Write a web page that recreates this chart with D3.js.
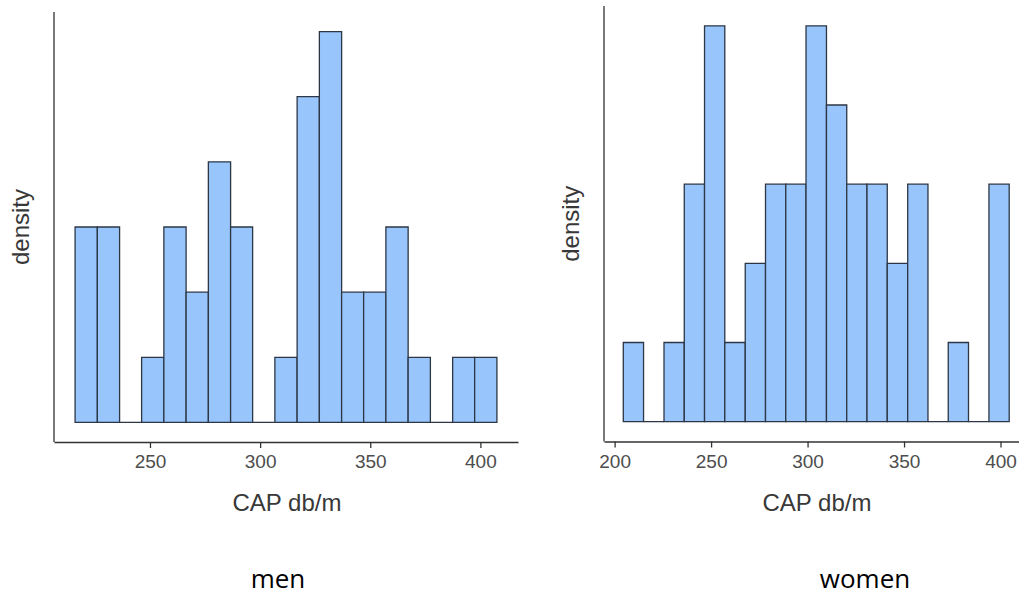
<!DOCTYPE html>
<html>
<head>
<meta charset="utf-8">
<script src="https://cdn.jsdelivr.net/npm/d3@7"></script>
<style>
  html, body { margin: 0; padding: 0; background: #fff; }
  svg { display: block; }
  .axis-title { font-family: "Liberation Sans", Arial, sans-serif; font-size: 24px; fill: #383838; }
  .tick-label { font-family: "Liberation Sans", Arial, sans-serif; font-size: 19px; fill: #4d4d4d; }
  .caption { font-family: "Open Sans", "Noto Sans", sans-serif; font-size: 26px; fill: #000; }
</style>
</head>
<body>
<div id="chart"></div>
<script>
// bin edges (CAP db/m), counts per bin
var menBreaks = [216, 226.1, 236.2, 246.2, 256.3, 266.4, 276.5, 286.6, 296.6, 306.7,
                 316.8, 326.9, 337.0, 347.0, 357.1, 367.2, 377.3, 387.4, 397.4, 407.5]
var menCounts = [3, 3, 0, 1, 3, 2, 4, 3, 0, 1, 5, 6, 2, 2, 3, 1, 0, 1, 1]

var womenBreaks = [204.5, 215.0, 225.6, 236.1, 246.6, 257.1, 267.7, 278.2, 288.7, 299.2,
                   309.8, 320.3, 330.8, 341.3, 351.9, 362.4, 372.9, 383.4, 394.0, 404.5]
var womenCounts = [1, 0, 1, 3, 5, 1, 2, 3, 3, 5, 4, 3, 3, 2, 3, 0, 1, 0, 3]

var menTicks = [250, 300, 350, 400]
var womenTicks = [200, 250, 300, 350, 400]

var xTitle = 'CAP db/m'
var yTitle = 'density'
var captions = ['men', 'women']

function d3Translate(x, y) {
  return 'translate(' + x + ',' + y + ')';
}

var WIDTH = 1019, HEIGHT = 597

var svg = d3.select('#chart').append('svg')
  .attr('width', WIDTH)
  .attr('height', HEIGHT)

svg.append('rect')
  .attr('width', WIDTH)
  .attr('height', HEIGHT)
  .attr('fill', '#fff')

// ggplot-ish expansion, 5% each side
function expand(lo, hi) {
  var pad = (hi - lo) * 0.05
  return [lo - pad, hi + pad]
}

function drawPanel(cfg) {
  var bins = cfg.counts.map(function(c, i) {
    return {x0: cfg.breaks[i], x1: cfg.breaks[i + 1], n: c}
  })

  var xScale = d3.scaleLinear()
    .domain(expand(cfg.breaks[0], cfg.breaks[cfg.breaks.length - 1]))
    .range([cfg.left, cfg.right])

  var yScale = d3.scaleLinear()
    .domain(expand(0, d3.max(cfg.counts)))
    .range([cfg.bottom, cfg.top])

  var g = svg.append('g')

  // paths rather than rects so empty bins still show their base line
  g.selectAll('path.bar')
    .data(bins)
    .enter()
    .append('path')
    .attr('class', 'bar')
    .attr('d', function(d) {
      var p = d3.path()
      p.rect(xScale(d.x0), yScale(d.n), xScale(d.x1) - xScale(d.x0), yScale(0) - yScale(d.n))
      return p.toString()
    })
    .attr('fill', '#98c6fc')
    .attr('stroke', '#2c3645')
    .attr('stroke-width', 1.3)

  // axes, classic theme: lines only on bottom and left, no y ticks
  var xAxis = d3.axisBottom(xScale)
    .tickValues(cfg.ticks)
    .tickSize(6)
    .tickSizeOuter(0)
    .tickPadding(7)

  var ax = g.append('g')
    .attr('transform', d3Translate(0, cfg.bottom))
    .call(xAxis)
  ax.attr('font-size', null).attr('font-family', null)
  ax.select('.domain').attr('stroke', '#333').attr('stroke-width', 1.3)
  ax.selectAll('.tick line').attr('stroke', '#333').attr('stroke-width', 1.3)
  ax.selectAll('.tick text')
    .attr('class', 'tick-label')
    .attr('fill', null)

  g.append('line')
    .attr('x1', cfg.left)
    .attr('x2', cfg.left)
    .attr('y1', cfg.top)
    .attr('y2', cfg.bottom)
    .attr('stroke', '#333')
    .attr('stroke-width', 1.3)

  g.append('text')
    .attr('class', 'axis-title')
    .attr('x', cfg.titleX)
    .attr('y', cfg.bottom + 69)
    .attr('text-anchor', 'middle')
    .text(xTitle)

  g.append('text')
    .attr('class', 'axis-title')
    .attr('transform', d3Translate(cfg.left - 25, (cfg.top + cfg.bottom) / 2) + ' rotate(-90)')
    .attr('text-anchor', 'middle')
    .text(yTitle)

  g.append('text')
    .attr('class', 'caption')
    .attr('x', cfg.captionX)
    .attr('y', 588)
    .attr('text-anchor', 'middle')
    .text(cfg.caption)
}

drawPanel({
  breaks: menBreaks, counts: menCounts, ticks: menTicks,
  left: 54, right: 518, top: 12, bottom: 442,
  titleX: 287, captionX: 278, caption: captions[0]
})

drawPanel({
  breaks: womenBreaks, counts: womenCounts, ticks: womenTicks,
  left: 604, right: 1028.5, top: 6, bottom: 441.5,
  titleX: 817, captionX: 865, caption: captions[1]
})
</script>
</body>
</html>
